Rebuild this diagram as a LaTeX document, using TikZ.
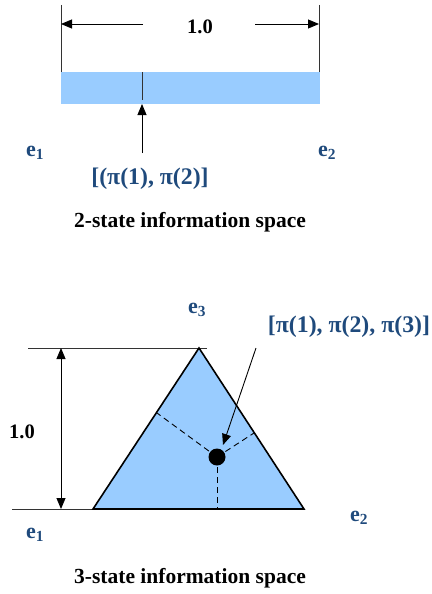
\documentclass[tikz,border=0pt]{standalone}
\usepackage{fontspec}
\setmainfont{Liberation Serif}
\usetikzlibrary{arrows.meta}
\definecolor{fillblue}{HTML}{99CCFF}
\definecolor{txtblue}{HTML}{1F4A7C}
\tikzset{
  lbl/.style={font=\bfseries\fontsize{22}{24}\selectfont, text=txtblue, inner sep=0pt},
  pilbl/.style={font=\bfseries\fontsize{23.8}{26}\selectfont, text=txtblue, inner sep=0pt},
  dimlbl/.style={font=\bfseries\fontsize{20.5}{23}\selectfont, inner sep=0pt},
  caption/.style={font=\bfseries\fontsize{21.5}{24}\selectfont, inner sep=0pt},
  thin line/.style={line width=0.9pt, draw=black!80},
  dimarrow/.style={line width=0.9pt, -{Triangle[length=11pt,width=9pt]}},
  dimarrows/.style={line width=0.9pt, {Triangle[length=11pt,width=9pt]}-{Triangle[length=11pt,width=9pt]}},
}
\begin{document}
\begin{tikzpicture}[x=1pt,y=-1pt]
\useasboundingbox (0,0) rectangle (431,594);
% ---------- 2-state ----------
\fill[fillblue] (61,72) rectangle (320,104);
\coordinate (b1top) at (61,5);
\coordinate (b1bot) at (61,72);
\coordinate (b2top) at (319,5);
\coordinate (b2bot) at (319,72);
\draw[thin line] (b1top) -- (b1bot);
\draw[thin line] (b2top) -- (b2bot);
\node[dimlbl] (one) at (200,27) {1.0};
\coordinate (dl) at (143,24);
\coordinate (dr) at (255,24);
\coordinate (dlend) at (61,24);
\coordinate (drend) at (319,24);
\draw[dimarrow] (dl) -- (dlend);
\draw[dimarrow] (dr) -- (drend);
\coordinate (mtop) at (142,72);
\coordinate (mbot) at (142,100);
\draw[thin line] (mtop) -- (mbot);
\coordinate (pstart) at (142,153);
\coordinate (pend) at (142,104);
\draw[dimarrow] (pstart) -- (pend);
\node[lbl] (e1a) at (35,153) {e\textsubscript{1}};
\node[lbl] (e2a) at (327,153) {e\textsubscript{2}};
\node[pilbl] (pi2) at (150,179) {[(π(1), π(2)]};
\node[caption] (cap2) at (190,222) {2-state information space};
% ---------- 3-state ----------
\coordinate (A) at (93,509);
\coordinate (B) at (304,509);
\coordinate (C) at (199,348);
\fill[fillblue] (A) -- (B) -- (C) -- cycle;
\coordinate (htopL) at (28,348);
\coordinate (htopR) at (207,348);
\coordinate (hbotL) at (12,509);
\draw[thin line] (htopL) -- (htopR);
\draw[thin line] (hbotL) -- (A);
\coordinate (vt) at (61,348);
\coordinate (vb) at (61,509);
\draw[dimarrows] (vt) -- (vb);
\node[dimlbl] (one3) at (22,432) {1.0};
\node[circle, fill=black, minimum size=17pt, inner sep=0pt] (dot) at (217,457) {};
\coordinate (dL) at (157,413);
\coordinate (dR) at (254,433);
\coordinate (dB) at (217,509);
\draw[dashed, line width=0.9pt, dash pattern=on 6pt off 4pt] (dot.center) -- (dL);
\draw[dashed, line width=0.9pt, dash pattern=on 6pt off 4pt] (dot.center) -- (dR);
\draw[dashed, line width=0.9pt, dash pattern=on 6pt off 4pt] (dot.center) -- (dB);
\draw[line width=1.6pt, line join=miter] (A) -- (B) -- (C) -- cycle;
\coordinate (astart) at (256,348);
\coordinate (aend) at (223,445);
\draw[line width=0.9pt, -{Triangle[length=11pt,width=9pt]}] (astart) -- (aend);
\node[lbl] (e3) at (197,310) {e\textsubscript{3}};
\node[lbl] (e2b) at (359,518) {e\textsubscript{2}};
\node[lbl] (e1b) at (35,535) {e\textsubscript{1}};
\node[pilbl] (pi3) at (349,327) {[π(1), π(2), π(3)]};
\node[caption] (cap3) at (190,578) {3-state information space};
\end{tikzpicture}
\end{document}
